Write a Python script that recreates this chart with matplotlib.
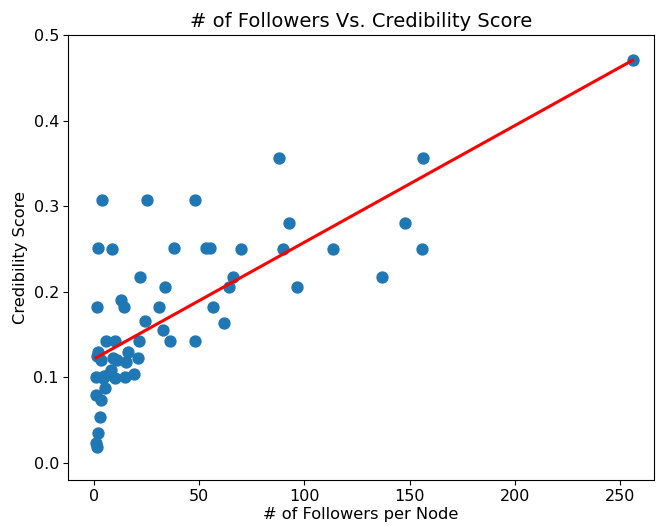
import numpy as np
import matplotlib
matplotlib.use("Agg")
import matplotlib.pyplot as plt

followers = [2, 4, 8.5, 25, 48, 88, 156.5, 256, 92.5, 148, 38, 53, 55, 70, 90, 113.6, 156,
             137, 96.5, 66, 64, 62, 56.5, 48, 33.7, 31, 24, 22, 13, 14, 1.5, 33, 36, 21.5,
             21, 19, 16, 15, 14.7, 5.7, 10, 2, 3.3, 1, 4.3, 8, 10, 5, 1, 3.3, 3, 2, 1, 1.4,
             1.5, 7, 11, 4.5, 9]
credibility = [0.251, 0.307, 0.25, 0.307, 0.307, 0.356, 0.356, 0.471, 0.28, 0.28, 0.251, 0.251,
               0.251, 0.25, 0.25, 0.25, 0.25, 0.217, 0.206, 0.217, 0.206, 0.164, 0.182, 0.142,
               0.206, 0.182, 0.166, 0.217, 0.19, 0.182, 0.182, 0.155, 0.142, 0.142, 0.123,
               0.104, 0.13, 0.118, 0.1, 0.142, 0.142, 0.13, 0.12, 0.1, 0.099, 0.109, 0.099,
               0.088, 0.079, 0.074, 0.054, 0.035, 0.023, 0.018, 0.125, 0.104, 0.12, 0.102, 0.122]

fit_intercept = 0.1215
fit_slope = 0.001363

fig, ax = plt.subplots(figsize=(6.56, 5.26), dpi=100)
fig.subplots_adjust(left=68/656, right=654/656, top=1-35/526, bottom=1-480/526)

ax.scatter(followers, credibility, color="#1f77b4", s=62, zorder=2)
xs = np.array([min(followers), max(followers)])
ax.plot(xs, fit_intercept + fit_slope * xs, color="red", linewidth=2.2, zorder=3)

ax.set_xlim(-12.4, 266.2)
ax.set_ylim(-0.02, 0.5)
ax.set_xticks([0, 50, 100, 150, 200, 250])
ax.set_yticks([0.0, 0.1, 0.2, 0.3, 0.4, 0.5])
ax.tick_params(labelsize=11.5, length=3.5, pad=3)
ax.set_title("# of Followers Vs. Credibility Score", fontsize=14)
ax.set_xlabel("# of Followers per Node", fontsize=11.7, labelpad=2)
ax.set_ylabel("Credibility Score", fontsize=11.7)

fig.savefig("out.png", dpi=100)
